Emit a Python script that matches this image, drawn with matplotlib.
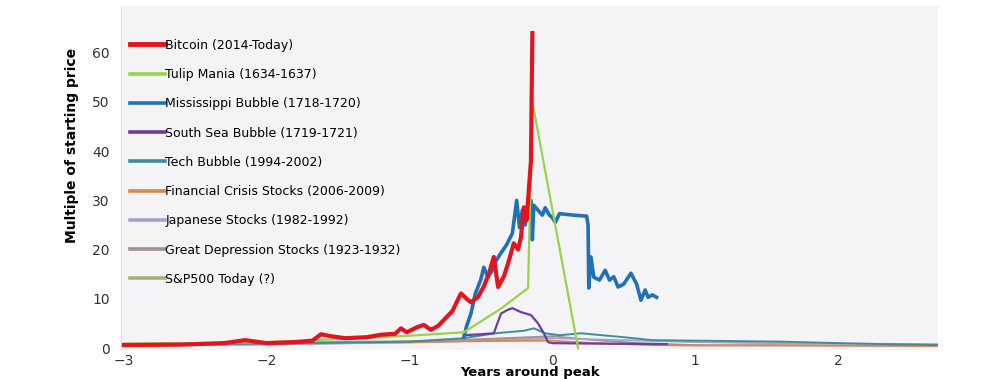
import matplotlib.pyplot as plt

# Données (années autour du pic, multiple du prix de départ)
btc_x = [-3.0, -2.6, -2.3, -2.15, -2.1, -2.0, -1.8, -1.68, -1.62, -1.55, -1.45, -1.3, -1.2, -1.1,
         -1.06, -1.02, -0.95, -0.9, -0.85, -0.8, -0.76, -0.7, -0.64, -0.6, -0.57, -0.52, -0.48,
         -0.44, -0.41, -0.38, -0.34, -0.31, -0.27, -0.24, -0.22, -0.2, -0.18, -0.16, -0.15, -0.14]
btc_y = [0.6, 0.7, 1.0, 1.6, 1.4, 1.0, 1.2, 1.5, 2.8, 2.4, 2.0, 2.2, 2.7, 2.9,
         4.0, 3.2, 4.2, 4.7, 3.7, 4.5, 5.7, 7.5, 11.1, 10.0, 9.3, 10.4, 12.5,
         15.5, 18.5, 12.4, 14.5, 17.2, 21.3, 20.0, 22.5, 28.6, 26.0, 34.0, 38.0, 64.0]

tulip_x = [-3.0, -2.0, -1.5, -1.0, -0.62, -0.36, -0.17, -0.14, 0.18]
tulip_y = [0.8, 1.2, 1.8, 2.5, 3.2, 8.0, 12.2, 50.0, 0.0]

miss_x = [-0.62, -0.6, -0.57, -0.54, -0.5, -0.48, -0.45, -0.42, -0.4, -0.36, -0.32, -0.28, -0.25,
          -0.23, -0.21, -0.19, -0.17, -0.15, -0.14, -0.13, -0.1, -0.07, -0.05, -0.02, 0.0, 0.02,
          0.05, 0.15, 0.24, 0.25, 0.255, 0.27, 0.29, 0.33, 0.37, 0.4, 0.43, 0.46, 0.5, 0.55,
          0.59, 0.62, 0.65, 0.67, 0.7, 0.73]
miss_y = [2.2, 4.5, 7.0, 11.0, 14.0, 16.4, 14.4, 15.8, 17.5, 19.3, 21.0, 23.3, 30.0,
          24.5, 28.0, 25.0, 29.0, 30.0, 22.0, 29.0, 28.0, 27.0, 28.5, 27.0, 26.5, 25.5,
          27.3, 27.0, 26.8, 25.0, 12.2, 18.5, 14.4, 13.8, 15.8, 13.8, 14.5, 12.4, 13.0, 15.2,
          13.0, 9.7, 11.8, 10.3, 10.8, 10.3]

south_x = [-0.62, -0.5, -0.41, -0.36, -0.31, -0.28, -0.22, -0.15, -0.1, -0.06, -0.03, 0.0, 0.3, 0.8]
south_y = [2.6, 2.8, 3.0, 7.0, 7.8, 8.1, 7.3, 6.7, 5.0, 3.0, 1.2, 1.0, 0.9, 0.8]

tech_x = [-3.0, -2.0, -1.5, -1.0, -0.62, -0.4, -0.2, -0.13, -0.05, 0.05, 0.2, 0.35, 0.5, 0.7,
          1.0, 1.3, 1.6, 2.0, 2.3, 2.7]
tech_y = [0.7, 0.9, 1.1, 1.3, 2.0, 3.0, 3.5, 4.0, 3.0, 2.6, 3.0, 2.6, 2.2, 1.6,
          1.5, 1.4, 1.3, 1.0, 0.8, 0.6]

fin_x = [-3.0, -2.0, -1.0, -0.5, 0.0, 0.3, 0.7, 1.0, 1.5, 2.0, 2.7]
fin_y = [0.9, 1.0, 1.2, 1.4, 1.5, 1.0, 0.6, 0.5, 0.6, 0.5, 0.4]

jap_x = [-3.0, -2.0, -1.0, -0.5, 0.0, 0.5, 1.0, 1.5, 2.0, 2.7]
jap_y = [0.6, 0.8, 1.1, 1.5, 2.0, 1.6, 1.2, 1.0, 0.9, 0.8]

dep_x = [-3.0, -2.0, -1.0, -0.5, 0.0, 0.3, 0.6, 1.0, 1.5, 2.0, 2.7]
dep_y = [0.5, 0.7, 1.2, 1.8, 2.4, 1.6, 1.0, 0.6, 0.5, 0.5, 0.5]

sp_x = [-3.0, -2.0, -1.0, -0.5, -0.2, 0.0]
sp_y = [0.9, 1.1, 1.4, 1.7, 1.9, 2.0]

labels = ['Bitcoin (2014-Today)', 'Tulip Mania (1634-1637)', 'Mississippi Bubble (1718-1720)',
          'South Sea Bubble (1719-1721)', 'Tech Bubble (1994-2002)',
          'Financial Crisis Stocks (2006-2009)', 'Japanese Stocks (1982-1992)',
          'Great Depression Stocks (1923-1932)', 'S&P500 Today (?)']

fig = plt.figure(figsize=(10.06, 3.79), dpi=100)
ax = fig.add_axes([0.1203, 0.0765, 0.8121, 0.9077])
ax.set_facecolor('#f4f4f6')

# Séries de fond d'abord, les bulles par-dessus
ax.plot(sp_x, sp_y, color='#a9ae7c', lw=1.3, label=labels[8], zorder=2)
ax.plot(dep_x, dep_y, color='#a38f8f', lw=1.3, label=labels[7], zorder=2)
ax.plot(jap_x, jap_y, color='#a3a3cc', lw=1.3, label=labels[6], zorder=2)
ax.plot(fin_x, fin_y, color='#d9884a', lw=1.3, label=labels[5], zorder=2)
ax.plot(tech_x, tech_y, color='#3f8d9c', lw=1.4, label=labels[4], zorder=3)
ax.plot(south_x, south_y, color='#6b3fa0', lw=1.6, label=labels[3], zorder=3)
ax.plot(miss_x, miss_y, color='#2270b8', lw=2.6, label=labels[2], zorder=4)
ax.plot(tulip_x, tulip_y, color='#9bd24a', lw=1.6, label=labels[1], zorder=5)
ax.plot(btc_x, btc_y, color='#e3141e', lw=3.0, label=labels[0], zorder=6)

ax.set_xlim(-3.02, 2.7)
ax.set_ylim(-0.4, 69.5)
ax.set_xticks([-3, -2, -1, 0, 1, 2])
ax.set_yticks([0, 10, 20, 30, 40, 50, 60])
ax.tick_params(length=0, labelsize=10, labelcolor='#333333')
ax.tick_params(axis='x', pad=3)
ax.tick_params(axis='y', pad=8)
for s in ['top', 'right', 'bottom']:
    ax.spines[s].set_visible(False)
ax.spines['left'].set_color('#dddddd')

ax.set_xlabel('Years around peak', fontsize=9.5, fontweight='bold', va='center')
ax.xaxis.set_label_coords(0.5, -0.066)
ax.set_ylabel('Multiple of starting price', fontsize=10, fontweight='bold')
ax.yaxis.set_label_coords(-0.051, 0.596)

handles, labs = ax.get_legend_handles_labels()
handles = handles[::-1]
labs = labs[::-1]
leg = ax.legend(handles, labs, loc='upper left', bbox_to_anchor=(0.0, 0.93), frameon=False,
                fontsize=9, handlelength=2.8, handletextpad=0.05, labelspacing=1.3,
                borderaxespad=0.3)
for h in leg.get_lines():
    h.set_linewidth(2.6)
leg.get_lines()[0].set_linewidth(3.5)

fig.savefig('out.png', dpi=100)
